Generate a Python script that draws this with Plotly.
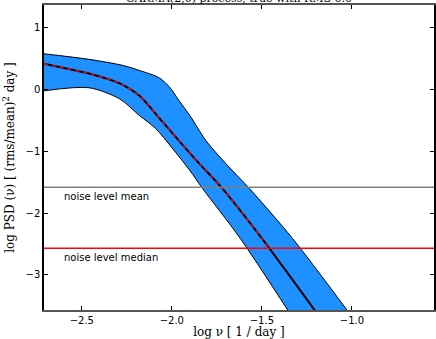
import plotly.graph_objects as go

# Median PSD (black line, red dashed overlay on the left part)
center_x = [-2.71, -2.6, -2.46, -2.29, -2.18, -2.07, -1.96, -1.85, -1.72, -1.50, -1.20]
center_y = [0.42, 0.35, 0.26, 0.10, -0.10, -0.46, -0.83, -1.19, -1.60, -2.41, -3.60]
# red dashed part
dash_x = [-2.71, -2.6, -2.46, -2.29, -2.18, -2.07, -1.96, -1.85, -1.72, -1.50, -1.46]
dash_y = [0.42, 0.35, 0.26, 0.10, -0.10, -0.46, -0.83, -1.19, -1.60, -2.41, -2.57]
# Upper / lower envelope of the band
upper_x = [-2.71, -2.46, -2.27, -2.18, -2.07, -2.01, -1.96, -1.90, -1.81, -1.70, -1.57, -1.33, -1.02]
upper_y = [0.58, 0.49, 0.39, 0.31, 0.19, 0.03, -0.18, -0.42, -0.83, -1.20, -1.60, -2.41, -3.60]
lower_x = [-2.71, -2.46, -2.29, -2.18, -2.09, -2.00, -1.90, -1.83, -1.62, -1.35]
lower_y = [-0.02, 0.03, -0.15, -0.42, -0.63, -0.94, -1.31, -1.60, -2.41, -3.60]

noise_mean = -1.58
noise_median = -2.57

x_range = [-2.71, -0.544]
y_range = [-3.57, 1.37]
x_ticks = [-2.5, -2.0, -1.5, -1.0]
x_labels = ["\u22122.5", "\u22122.0", "\u22121.5", "\u22121.0"]
y_ticks = [1, 0, -1, -2, -3]
y_labels = ["1", "0", "\u22121", "\u22122", "\u22123"]

spl = dict(shape="spline", smoothing=0.8)

fig = go.Figure()
fig.add_trace(go.Scatter(x=lower_x, y=lower_y, mode="lines",
                         line=dict(color="black", width=1, **spl),
                         hoverinfo="skip", showlegend=False))
fig.add_trace(go.Scatter(x=upper_x, y=upper_y, mode="lines", fill="tonexty",
                         fillcolor="#1E90FF",
                         line=dict(color="black", width=1, **spl),
                         hoverinfo="skip", showlegend=False))
fig.add_trace(go.Scatter(x=center_x, y=center_y, mode="lines",
                         line=dict(color="black", width=2, **spl), showlegend=False))
fig.add_trace(go.Scatter(x=dash_x, y=dash_y, mode="lines",
                         line=dict(color="red", width=1.5, dash="4px,4px", **spl),
                         showlegend=False))
fig.add_trace(go.Scatter(x=x_range, y=[noise_mean, noise_mean], mode="lines",
                         line=dict(color="#808080", width=1.5), showlegend=False))
fig.add_trace(go.Scatter(x=x_range, y=[noise_median, noise_median], mode="lines",
                         line=dict(color="red", width=1.5), showlegend=False))

fig.add_annotation(x=-2.61, y=noise_mean, yshift=-2, text="noise level mean", showarrow=False,
                   xanchor="left", yanchor="top",
                   font=dict(family="DejaVu Sans", size=10, color="black"))
fig.add_annotation(x=-2.61, y=noise_median, yshift=-2, text="noise level median", showarrow=False,
                   xanchor="left", yanchor="top",
                   font=dict(family="DejaVu Sans", size=10, color="black"))
fig.add_annotation(xref="paper", yref="paper", x=0.5, y=1, yshift=-2, xanchor="center",
                   yanchor="bottom", showarrow=False,
                   text="CARMA(2,0) process, true with RMS 0.0",
                   font=dict(family="DejaVu Serif", size=11, color="black"))

axis_common = dict(showgrid=False, zeroline=False, ticks="inside", ticklen=4,
                   tickcolor="black", mirror="ticks", showline=True,
                   tickfont=dict(family="DejaVu Sans", size=10, color="black"))
fig.update_xaxes(range=x_range, tickvals=x_ticks, ticktext=x_labels,
                 linecolor="#555555", linewidth=1.5,
                 title=dict(text="log \u03bd [ 1 / day ]", standoff=4,
                            font=dict(family="DejaVu Serif", size=12, color="black")),
                 **axis_common)
fig.update_yaxes(range=y_range, tickvals=y_ticks, ticktext=y_labels,
                 linecolor="black", linewidth=1.5,
                 title=dict(text="log PSD (\u03bd) [ (rms/mean)<sup>2</sup> day ]", standoff=8,
                            font=dict(family="DejaVu Serif", size=12, color="black")),
                 **axis_common)
fig.update_layout(width=436, height=339, margin=dict(l=44, r=0, t=5, b=29),
                  plot_bgcolor="white", paper_bgcolor="white")
fig.write_html("out.html")
